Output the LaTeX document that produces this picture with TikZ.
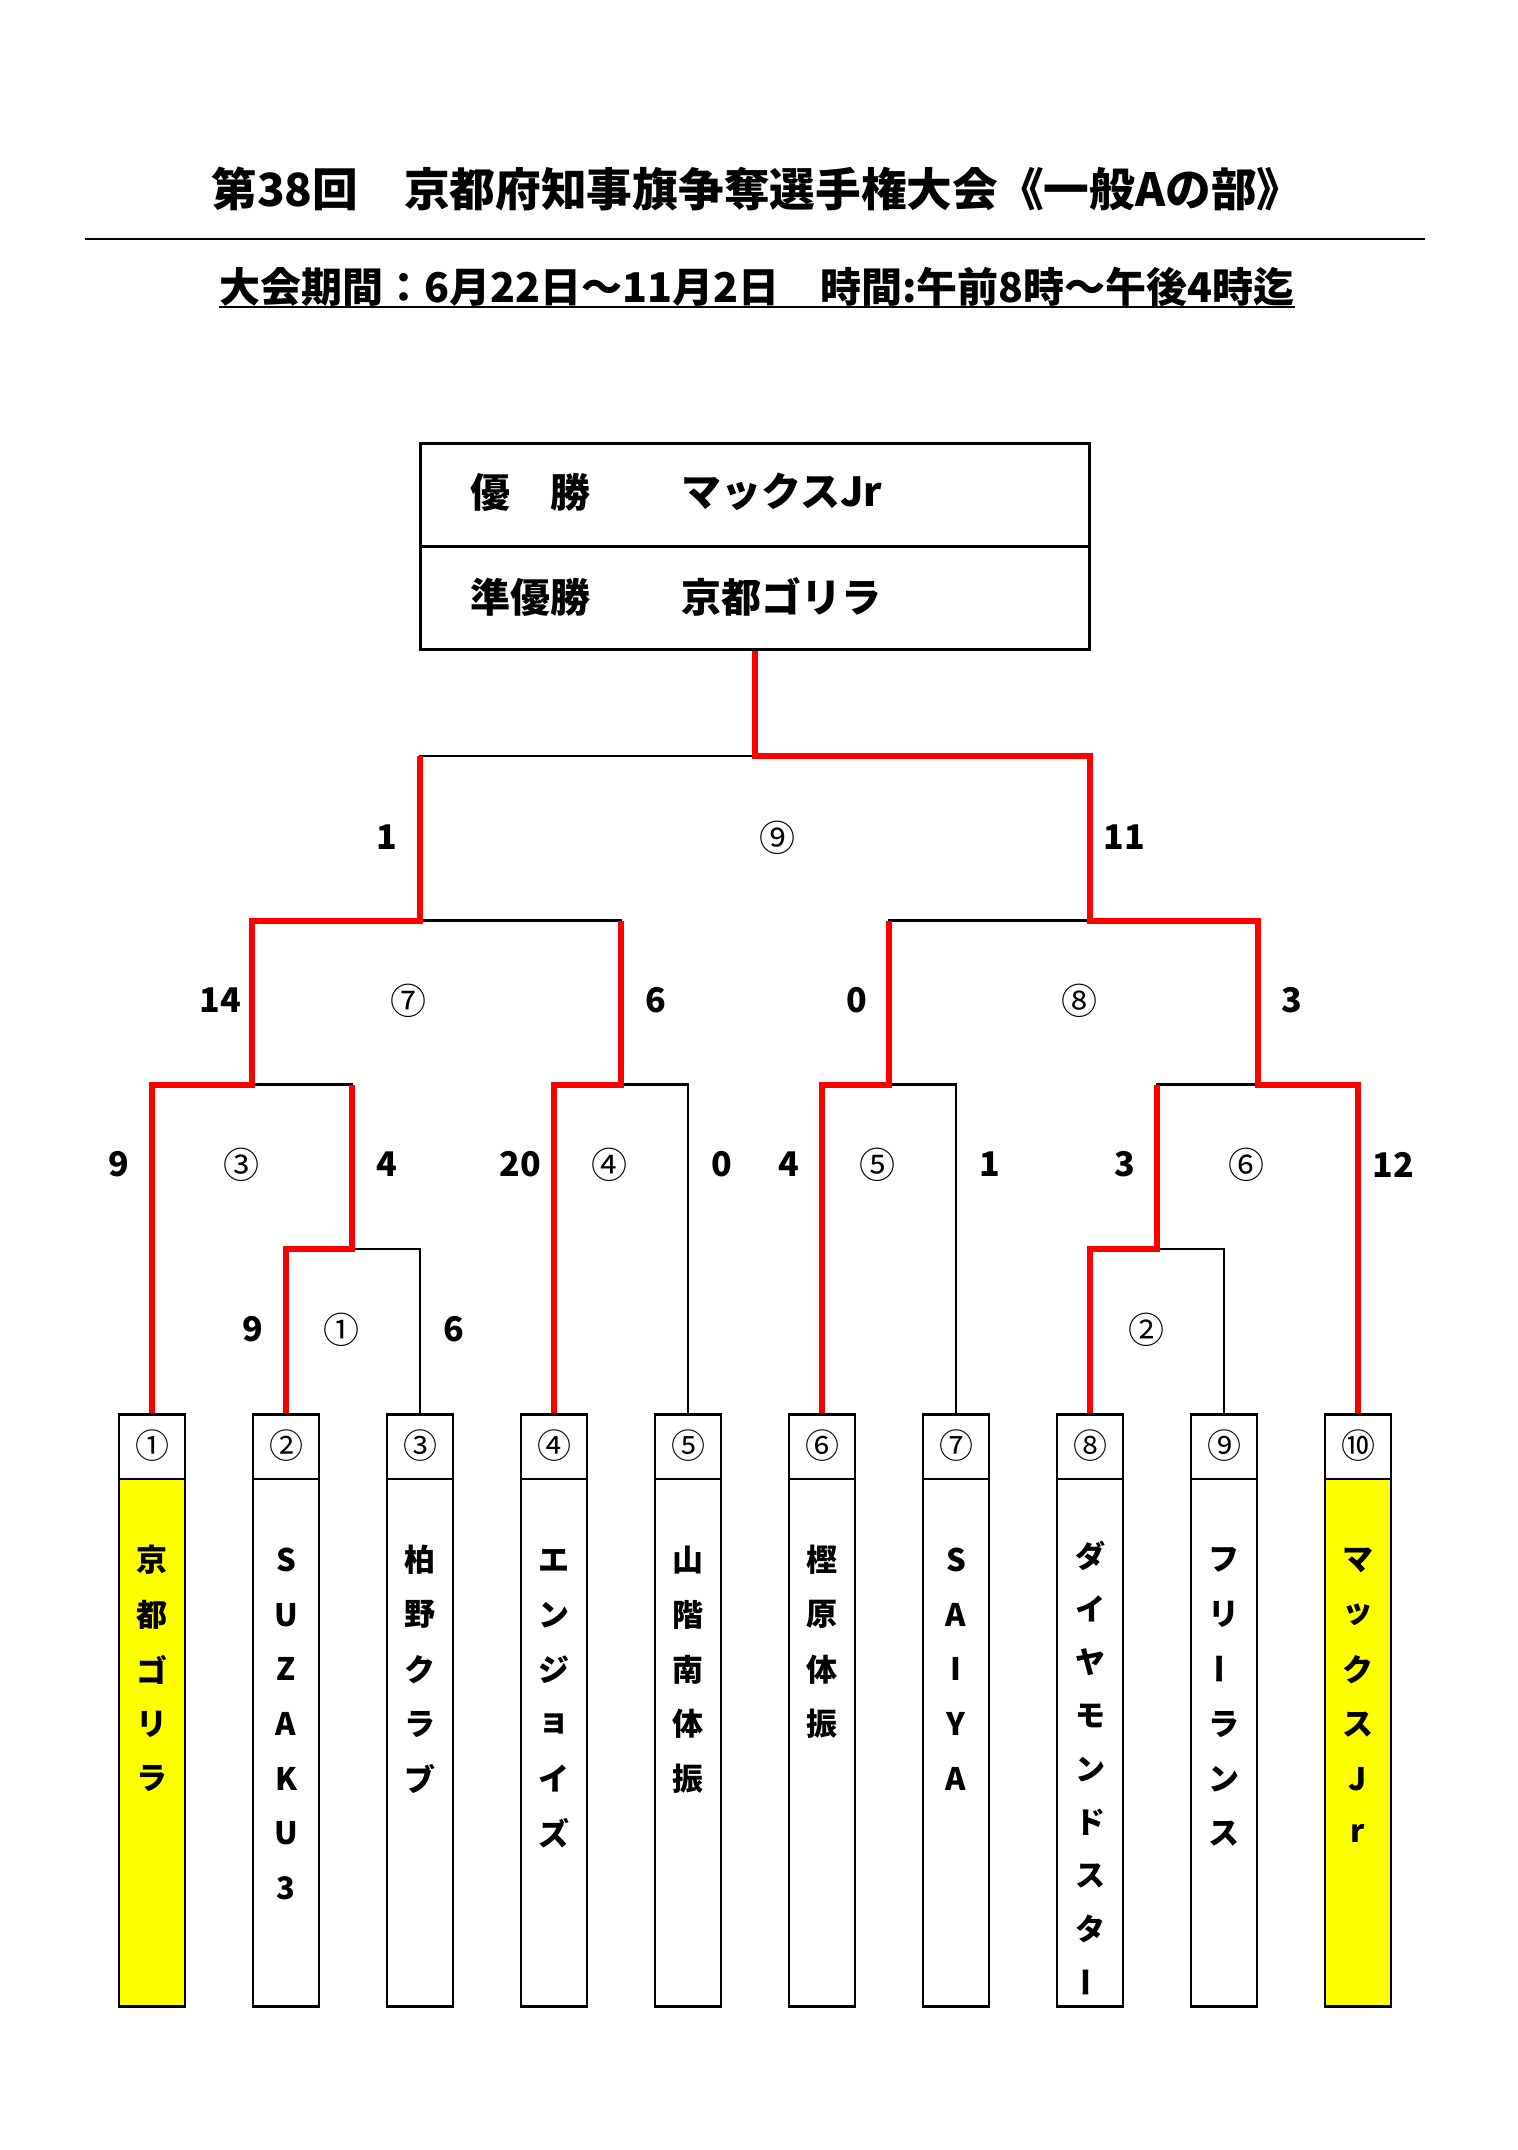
\documentclass[tikz,border=0pt]{standalone}
\usepackage{fontspec}
\setmainfont{Noto Sans CJK JP}
\definecolor{winyel}{RGB}{255,255,0}
\definecolor{winred}{RGB}{255,0,0}
\newcommand\tatebar{\rotatebox[origin=c]{90}{ー}}
\newcommand\vname[6]{%
  \foreach \c [count=\i] in {#6}
    \node[nm,font=\bfseries\fontsize{#5}{#5}\selectfont] (#1-\i) at (#2, #3+#4*\i-#4) {\c};}
\begin{document}
\begin{tikzpicture}[x=1pt,y=-1pt,
  blk/.style={line width=2.4pt, black},
  redl/.style={line width=6pt, winred, line join=miter},
  pbox/.style={draw, line width=2.4pt, minimum width=66pt, minimum height=592pt, inner sep=0pt,
    path picture={\draw[line width=2.4pt] ([yshift=-64.5pt]path picture bounding box.north west) -- ([yshift=-64.5pt]path picture bounding box.north east);}},
  wbox/.style={draw, line width=2.4pt, minimum width=66pt, minimum height=592pt, inner sep=0pt,
    path picture={\fill[winyel] ([yshift=-64.5pt]path picture bounding box.north west) rectangle (path picture bounding box.south east);
      \draw[line width=2.4pt] ([yshift=-64.5pt]path picture bounding box.north west) -- ([yshift=-64.5pt]path picture bounding box.north east);}},
  nm/.style={inner sep=0pt},
  num/.style={inner sep=0pt, font=\fontsize{34}{34}\selectfont},
  score/.style={inner sep=0pt, font=\bfseries\fontsize{34}{34}\selectfont},
  mno/.style={inner sep=0pt, font=\fontsize{36}{36}\selectfont},
  restxt/.style={inner sep=0pt, anchor=west, font=\bfseries\fontsize{40}{40}\selectfont}
]
\useasboundingbox[fill=white] (0,0) rectangle (1518,2150);

% heading
\node[inner sep=0pt, anchor=base, font=\bfseries\fontsize{45.7}{45.7}\selectfont] (title) at (757,206) {第38回　京都府知事旗争奪選手権大会《一般Aの部》};
\coordinate (rl) at (85,239);
\coordinate (rr) at (1425,239);
\draw[line width=2.2pt] (rl) -- (rr);
\node[inner sep=0pt, anchor=base, font=\bfseries\fontsize{41}{41}\selectfont] (sub) at (757,302) {大会期間：6月22日～11月2日　時間:午前8時～午後4時迄};
\draw[line width=2.2pt] ([yshift=-5pt]sub.base west) -- ([yshift=-5pt]sub.base east);

% result box
\node[draw, line width=3pt, minimum width=669pt, minimum height=206pt, inner sep=0pt] (res) at (755,546.5) {};
\draw[line width=3pt] (res.west) -- (res.east);
\node[restxt] (r1a) at (470,492) {優　勝};
\node[restxt] (r1b) at (681,492) {マックスJr};
\node[restxt] (r2a) at (470,597) {準優勝};
\node[restxt] (r2b) at (681,597) {京都ゴリラ};

% player boxes
\node[wbox] (p1) at (152,1710.5) {};
\node[pbox] (p2) at (286,1710.5) {};
\node[pbox] (p3) at (420,1710.5) {};
\node[pbox] (p4) at (554,1710.5) {};
\node[pbox] (p5) at (688,1710.5) {};
\node[pbox] (p6) at (822,1710.5) {};
\node[pbox] (p7) at (956,1710.5) {};
\node[pbox] (p8) at (1090,1710.5) {};
\node[pbox] (p9) at (1224,1710.5) {};
\node[wbox] (p10) at (1358,1710.5) {};

\foreach \k/\xx/\s in {1/152/①,2/286/②,3/420/③,4/554/④,5/688/⑤,6/822/⑥,7/956/⑦,8/1090/⑧,9/1224/⑨,10/1358/⑩}
  \node[num] (n\k) at (\xx,1446) {\s};

\vname{t1}{152}{1560}{54.7}{31}{京,都,ゴ,リ,ラ}
\vname{t2}{286}{1560}{54.7}{31}{S,U,Z,A,K,U,3}
\vname{t3}{420}{1560}{54.7}{31}{柏,野,ク,ラ,ブ}
\vname{t4}{554}{1560}{54.7}{31}{エ,ン,ジ,ョ,イ,ズ}
\vname{t5}{688}{1560}{54.7}{31}{山,階,南,体,振}
\vname{t6}{822}{1560}{54.7}{31}{樫,原,体,振}
\vname{t7}{956}{1560}{54.7}{31}{S,A,I,Y,A}
\vname{t8}{1090}{1556}{53.3}{30}{ダ,イ,ヤ,モ,ン,ド,ス,タ,\tatebar}
\vname{t9}{1224}{1560}{54.7}{31}{フ,リ,\tatebar,ラ,ン,ス}
\vname{t10}{1358}{1560}{54.7}{31}{マ,ッ,ク,ス,J,r}

% junctions
\coordinate (j1) at (352,1249);
\coordinate (j2) at (1157,1249);
\coordinate (j3) at (252,1084.5);
\coordinate (j4) at (621,1084.5);
\coordinate (j5) at (889,1084.5);
\coordinate (j6) at (1258,1084.5);
\coordinate (j7) at (420,920.5);
\coordinate (j8) at (1090,920.5);
\coordinate (j9) at (755,756);

% black bracket
\draw[blk] (p1.north) |- (j3);
\draw[blk] (p2.north) |- (j1);
\draw[blk] (p3.north) |- (j1);
\draw[blk] (j1) |- (j3);
\draw[blk] (p4.north) |- (j4);
\draw[blk] (p5.north) |- (j4);
\draw[blk] (j3) |- (j7);
\draw[blk] (j4) |- (j7);
\draw[blk] (p6.north) |- (j5);
\draw[blk] (p7.north) |- (j5);
\draw[blk] (p8.north) |- (j2);
\draw[blk] (p9.north) |- (j2);
\draw[blk] (j2) |- (j6);
\draw[blk] (p10.north) |- (j6);
\draw[blk] (j5) |- (j8);
\draw[blk] (j6) |- (j8);
\draw[blk] (j7) |- (j9);
\draw[blk] (j8) |- (j9);
\draw[blk] (j9) -- (res.south);

% winners' paths
\draw[redl] (p1.north) |- (j3) |- (j7) -- (j7 |- j9);
\draw[redl] (p2.north) |- (j1) -- (j1 |- j3);
\draw[redl] (p4.north) |- (j4) -- (j4 |- j7);
\draw[redl] (p6.north) |- (j5) -- (j5 |- j8);
\draw[redl] (p8.north) |- (j2) -- (j2 |- j6);
\draw[redl] (p10.north) |- (j6) |- (j8) |- (j9) -- (res.south);

% scores and match numbers
\node[score] (s1) at (387,837) {1};
\node[mno] (m9) at (777.5,838) {⑨};
\node[score] (s2) at (1124.5,837) {11};

\node[score] (s3) at (220.6,1000.5) {14};
\node[mno] (m7) at (408.6,1000.5) {⑦};
\node[score] (s4) at (655.4,1000.5) {6};
\node[score] (s5) at (856.4,1000.5) {0};
\node[mno] (m8) at (1079,1000.5) {⑧};
\node[score] (s6) at (1292,1000.5) {3};

\node[score] (s7) at (119,1164.5) {9};
\node[mno] (m3) at (241,1164.5) {③};
\node[score] (s8) at (387,1164.5) {4};
\node[score] (s9) at (520.6,1164.5) {20};
\node[mno] (m4) at (609,1164.5) {④};
\node[score] (s10) at (722,1164.5) {0};
\node[score] (s11) at (789,1164.5) {4};
\node[mno] (m5) at (877.7,1164.5) {⑤};
\node[score] (s12) at (990,1164.5) {1};
\node[score] (s13) at (1124.5,1164.5) {3};
\node[mno] (m6) at (1246,1164.5) {⑥};
\node[score] (s14) at (1393,1164.5) {12};

\node[score] (s15) at (253,1329.5) {9};
\node[mno] (m1) at (341,1329.5) {①};
\node[score] (s16) at (454,1329.5) {6};
\node[mno] (m2) at (1146,1329.5) {②};
\end{tikzpicture}
\end{document}
